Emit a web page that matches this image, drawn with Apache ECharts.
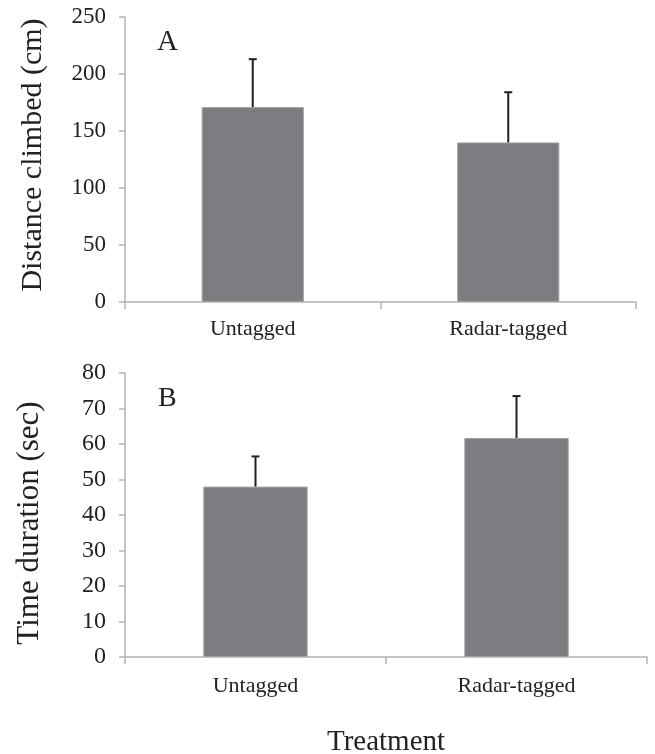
<!DOCTYPE html>
<html>
<head>
<meta charset="utf-8">
<script src="https://cdn.jsdelivr.net/npm/echarts@6/dist/echarts.min.js"></script>
<style>html,body{margin:0;padding:0;background:#fff}#c{width:655px;height:754px}</style>
</head>
<body>
<div id="c"></div>
<script>
const categories = ['Untagged', 'Radar-tagged'];
const distanceMean = [171, 140];
const distanceUpper = [213, 184];
const timeMean = [48, 61.7];
const timeUpper = [56.5, 73.5];
const distanceTicks = { min: 0, max: 250, interval: 50 };
const timeTicks = { min: 0, max: 80, interval: 10 };
const distanceName = 'Distance climbed (cm)';
const timeName = 'Time duration (sec)';
const xName = 'Treatment';

const FONT = 'Liberation Serif';
const AXIS_COLOR = '#b3b3b3';
const BAR_COLOR = '#7c7d81';
const ERR_COLOR = '#231f20';
const TEXT_COLOR = '#222';

function errData(mean, upper) {
  return mean.map((m, i) => [i, m, upper[i]]);
}
function errRender(params, api) {
  const x = api.value(0);
  const p0 = api.coord([x, api.value(1)]);
  const p1 = api.coord([x, api.value(2)]);
  const cap = 4;
  return {
    type: 'group',
    children: [
      { type: 'line', shape: { x1: p0[0], y1: p0[1], x2: p1[0], y2: p1[1] }, style: { stroke: ERR_COLOR, lineWidth: 2 } },
      { type: 'line', shape: { x1: p1[0] - cap, y1: p1[1], x2: p1[0] + cap, y2: p1[1] }, style: { stroke: ERR_COLOR, lineWidth: 2 } }
    ]
  };
}
function xAxisCfg(gridIndex, margin, extra) {
  return Object.assign({
    type: 'category', gridIndex, data: categories,
    axisLine: { lineStyle: { color: AXIS_COLOR, width: 1.5 } },
    axisTick: { show: true, length: 7, lineStyle: { color: AXIS_COLOR, width: 1.5 } },
    axisLabel: { fontFamily: FONT, fontSize: 22, color: TEXT_COLOR, margin }
  }, extra || {});
}
function yAxisCfg(gridIndex, ticks, fontSize) {
  return {
    type: 'value', gridIndex, min: ticks.min, max: ticks.max, interval: ticks.interval,
    splitLine: { show: false },
    axisLine: { show: true, lineStyle: { color: AXIS_COLOR, width: 1.5 } },
    axisTick: { show: true, length: 6, lineStyle: { color: AXIS_COLOR, width: 1.5 } },
    axisLabel: { fontFamily: FONT, fontSize, color: TEXT_COLOR, margin: 19 }
  };
}
function rotatedName(text, x, y, size) {
  return {
    type: 'text', x, y, rotation: Math.PI / 2,
    style: { text, fontFamily: FONT, fontSize: size, fill: TEXT_COLOR, textAlign: 'center', textVerticalAlign: 'middle' }
  };
}

const chart = echarts.init(document.getElementById('c'), null, { renderer: 'canvas' });
chart.setOption({
  animation: false,
  backgroundColor: '#fff',
  grid: [
    { left: 125, top: 17, width: 511, height: 285, containLabel: false, outerBoundsMode: 'none' },
    { left: 125, top: 373, width: 522, height: 284, containLabel: false, outerBoundsMode: 'none' }
  ],
  xAxis: [
    xAxisCfg(0, 16),
    xAxisCfg(1, 18, {
      name: xName, nameLocation: 'middle', nameGap: 71,
      nameTextStyle: { fontFamily: FONT, fontSize: 29, color: TEXT_COLOR }
    })
  ],
  yAxis: [
    yAxisCfg(0, distanceTicks, 23),
    yAxisCfg(1, timeTicks, 24)
  ],
  graphic: [
    rotatedName(distanceName, 33, 155, 30),
    rotatedName(timeName, 30, 523, 31),
    { type: 'text', x: 157, y: 42, style: { text: 'A', fontFamily: FONT, fontSize: 29, fill: TEXT_COLOR, textVerticalAlign: 'middle' } },
    { type: 'text', x: 158, y: 399, style: { text: 'B', fontFamily: FONT, fontSize: 28, fill: TEXT_COLOR, textVerticalAlign: 'middle' } }
  ],
  series: [
    { type: 'bar', xAxisIndex: 0, yAxisIndex: 0, data: distanceMean, barWidth: '40%',
      itemStyle: { color: BAR_COLOR, borderColor: '#a4a4a6', borderWidth: 1 } },
    { type: 'custom', xAxisIndex: 0, yAxisIndex: 0, data: errData(distanceMean, distanceUpper),
      renderItem: errRender, encode: { x: 0, y: [1, 2] }, z: 3 },
    { type: 'bar', xAxisIndex: 1, yAxisIndex: 1, data: timeMean, barWidth: '40%',
      itemStyle: { color: BAR_COLOR, borderColor: '#a4a4a6', borderWidth: 1 } },
    { type: 'custom', xAxisIndex: 1, yAxisIndex: 1, data: errData(timeMean, timeUpper),
      renderItem: errRender, encode: { x: 0, y: [1, 2] }, z: 3 }
  ]
});
</script>
</body>
</html>
